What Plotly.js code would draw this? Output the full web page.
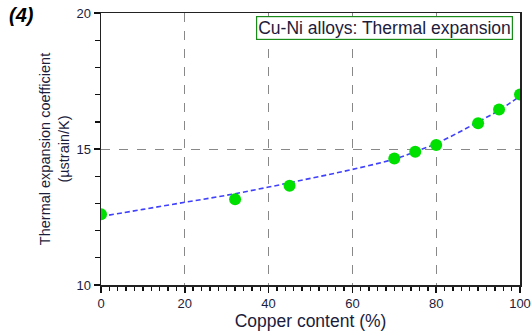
<!DOCTYPE html>
<html>
<head>
<meta charset="utf-8">
<script src="https://cdn.plot.ly/plotly-3.0.1.min.js"></script>
<style>html,body{margin:0;padding:0;background:#fff;}#chart{width:531px;height:334px;}</style>
</head>
<body>
<div id="chart"></div>
<script>
// Measured data points
const copperContent = [0, 32, 45, 70, 75, 80, 90, 95, 100];
const thermalExpansion = [12.6, 13.15, 13.65, 14.65, 14.9, 15.15, 15.95, 16.45, 17.0];

// Fitted curve
const fitX = [0, 10, 20, 30, 40, 50, 60, 70, 75, 80, 85, 90, 95, 100];
const fitY = [12.52, 12.78, 13.04, 13.30, 13.60, 13.92, 14.25, 14.63, 14.90, 15.20, 15.58, 16.0, 16.42, 16.95];

const xTickStep = 20;
const yTickStep = 5;

const labelColor = '#1c1c3c';

const traces = [
  {
    x: fitX, y: fitY, mode: 'lines', type: 'scatter',
    line: {color: '#4040ff', width: 1.6, dash: '5px,3px', shape: 'spline'},
    hoverinfo: 'skip', showlegend: false
  },
  {
    x: copperContent, y: thermalExpansion, mode: 'markers', type: 'scatter',
    marker: {color: '#00e000', size: 12, line: {width: 0}},
    showlegend: false
  }
];

const layout = {
  width: 531, height: 334,
  margin: {l: 101, r: 11, t: 13, b: 49},
  paper_bgcolor: '#fff', plot_bgcolor: '#fff',
  font: {family: 'Liberation Sans, Arial, sans-serif', color: labelColor, size: 12},
  xaxis: {
    range: [0, 100], tickmode: 'linear', tick0: 0, dtick: xTickStep,
    showline: true, linecolor: '#222', linewidth: 1.5, mirror: true,
    ticks: 'outside', ticklen: 6, tickcolor: '#111', tickwidth: 1.5,
    showgrid: true, gridcolor: '#888', griddash: 'dash', gridwidth: 1,
    zeroline: false,
    minor: {dtick: 2, ticks: 'outside', ticklen: 4, tickcolor: '#111', tickwidth: 1.4, showgrid: false},
    tickfont: {size: 13, color: labelColor},
    title: {text: 'Copper content (%)', font: {size: 17.5, color: labelColor}, standoff: 1}
  },
  yaxis: {
    range: [10, 20], tickmode: 'linear', tick0: 10, dtick: yTickStep,
    showline: true, linecolor: '#222', linewidth: 1.5, mirror: true,
    ticks: 'outside', ticklen: 6, tickcolor: '#111', tickwidth: 1.5,
    showgrid: true, gridcolor: '#888', griddash: 'dash', gridwidth: 1,
    zeroline: false,
    minor: {dtick: 1, ticks: 'outside', ticklen: 5, tickcolor: '#111', tickwidth: 1.4, showgrid: false},
    tickfont: {size: 13, color: labelColor},
    title: {text: 'Thermal expansion coefficient<br>(µstrain/K)', font: {size: 14.5, color: labelColor}, standoff: 3}
  },
  annotations: [
    {
      text: '<b><i>(4)</i></b>', xref: 'paper', yref: 'paper',
      x: -0.225, y: 1.04, xanchor: 'left', yanchor: 'top', showarrow: false,
      font: {size: 20, color: '#000'}
    },
    {
      text: 'Cu-Ni alloys: Thermal expansion', xref: 'paper', yref: 'paper',
      x: 0.984, y: 0.988, xanchor: 'right', yanchor: 'top', showarrow: false,
      font: {size: 17.5, color: labelColor},
      bordercolor: '#1a8a1a', borderwidth: 1.2, borderpad: 1, bgcolor: '#fff'
    }
  ]
};

Plotly.newPlot('chart', traces, layout, {displayModeBar: false, staticPlot: true});
</script>
</body>
</html>
